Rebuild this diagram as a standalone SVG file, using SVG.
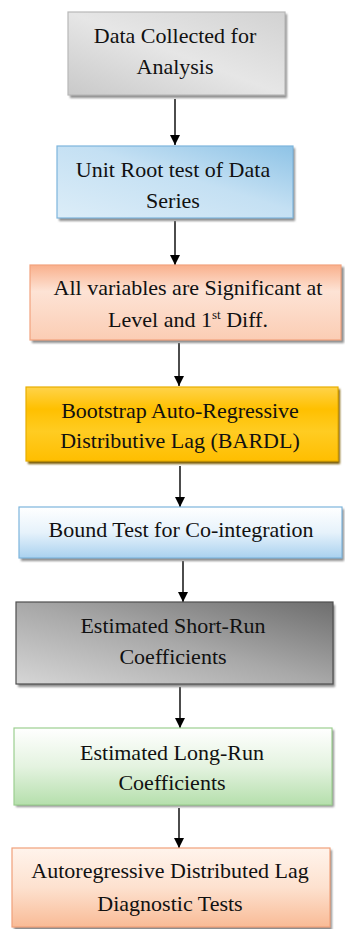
<svg xmlns="http://www.w3.org/2000/svg" width="345" height="929" viewBox="0 0 345 929" font-family="Times New Roman, Liberation Serif, serif">
  <defs>
    <linearGradient id="gGray" x1="0" y1="1" x2="1" y2="0">
      <stop offset="0" stop-color="#c9c9c9"/>
      <stop offset="0.5" stop-color="#e6e6e6"/>
      <stop offset="1" stop-color="#d2d2d2"/>
    </linearGradient>
    <linearGradient id="gBlue" x1="0" y1="1" x2="1" y2="0">
      <stop offset="0" stop-color="#dcedf8"/>
      <stop offset="0.55" stop-color="#c4e0f3"/>
      <stop offset="1" stop-color="#8ec3e6"/>
    </linearGradient>
    <linearGradient id="gSalmon" x1="0" y1="0" x2="0" y2="1">
      <stop offset="0" stop-color="#f9b08c"/>
      <stop offset="0.35" stop-color="#fde3d5"/>
      <stop offset="1" stop-color="#fbcdb4"/>
    </linearGradient>
    <linearGradient id="gGold" x1="0" y1="0" x2="0" y2="1">
      <stop offset="0" stop-color="#ffd34a"/>
      <stop offset="0.3" stop-color="#ffc000"/>
      <stop offset="0.6" stop-color="#ffcc22"/>
      <stop offset="1" stop-color="#ffbe00"/>
    </linearGradient>
    <linearGradient id="gSky" x1="0" y1="0" x2="0" y2="1">
      <stop offset="0" stop-color="#ffffff"/>
      <stop offset="0.5" stop-color="#e6f2fb"/>
      <stop offset="1" stop-color="#a9d1ef"/>
    </linearGradient>
    <linearGradient id="gDark" x1="0" y1="1" x2="1" y2="0">
      <stop offset="0" stop-color="#d6d6d6"/>
      <stop offset="0.5" stop-color="#a8a8a8"/>
      <stop offset="1" stop-color="#6e6e6e"/>
    </linearGradient>
    <linearGradient id="gGreen" x1="0" y1="0" x2="0" y2="1">
      <stop offset="0" stop-color="#ffffff"/>
      <stop offset="0.5" stop-color="#e4f3e0"/>
      <stop offset="1" stop-color="#b5dfac"/>
    </linearGradient>
    <linearGradient id="gPeach" x1="0" y1="0" x2="0" y2="1">
      <stop offset="0" stop-color="#fff4ec"/>
      <stop offset="0.5" stop-color="#fde1cf"/>
      <stop offset="1" stop-color="#f9bb96"/>
    </linearGradient>
    <filter id="soft" x="-5%" y="-10%" width="110%" height="120%">
      <feGaussianBlur stdDeviation="0.9"/>
    </filter>
    <marker id="head" viewBox="0 0 10 10" refX="10" refY="5" markerWidth="10" markerHeight="10" markerUnits="userSpaceOnUse" orient="auto">
      <path d="M0,0 L10,5 L0,10 z" fill="#000"/>
    </marker>
  </defs>
  <style>
    .label { font-family: "Times New Roman", "Liberation Serif", serif; font-size: 22px; fill: #111; text-anchor: middle; }
    .sup { font-size: 13px; }
    .shadow { fill: #8f8f8f; }
    .box { stroke-width: 1.2; }
    .link { stroke: #000; stroke-width: 1.4; fill: none; }
  </style>

  <g id="connectors">
    <line class="link" marker-end="url(#head)" x1="175" y1="99" x2="175" y2="145"/>
    <line class="link" marker-end="url(#head)" x1="175" y1="221" x2="175" y2="265"/>
    <line class="link" marker-end="url(#head)" x1="179" y1="343" x2="179" y2="386"/>
    <line class="link" marker-end="url(#head)" x1="180" y1="466" x2="180" y2="507"/>
    <line class="link" marker-end="url(#head)" x1="183" y1="561" x2="183" y2="602"/>
    <line class="link" marker-end="url(#head)" x1="180" y1="687" x2="180" y2="728"/>
    <line class="link" marker-end="url(#head)" x1="179" y1="808" x2="179" y2="848"/>
  </g>

  <g id="node-data">
    <rect class="shadow" filter="url(#soft)" x="70" y="14" width="217" height="84"/>
    <rect class="box" x="68" y="12" width="217" height="83" fill="url(#gGray)" stroke="#b8b8b8"/>
    <text class="label" font-family="Times New Roman" x="175" y="43">Data Collected  for</text>
    <text class="label" font-family="Times New Roman" x="175" y="74">Analysis</text>
  </g>

  <g id="node-unitroot">
    <rect class="shadow" filter="url(#soft)" x="59" y="148" width="236" height="73"/>
    <rect class="box" x="57" y="146" width="236" height="72" fill="url(#gBlue)" stroke="#7db5dc"/>
    <text class="label" font-family="Times New Roman" x="173" y="177">Unit Root test of Data</text>
    <text class="label" font-family="Times New Roman" x="173" y="208">Series</text>
  </g>

  <g id="node-significant">
    <rect class="shadow" filter="url(#soft)" x="32" y="267" width="312" height="76"/>
    <rect class="box" x="30" y="265" width="311" height="75" fill="url(#gSalmon)" stroke="#f2a27e"/>
    <text class="label" font-family="Times New Roman" x="188" y="295">All variables  are Significant at</text>
    <text class="label" font-family="Times New Roman" x="188" y="327">Level and 1<tspan class="sup" dy="-8">st</tspan><tspan dy="8"> Diff.</tspan></text>
  </g>

  <g id="node-bardl">
    <rect fill="#7a5a00" filter="url(#soft)" x="28" y="389" width="312" height="75"/>
    <rect class="box" x="26" y="387" width="312" height="74" fill="url(#gGold)" stroke="#e8ae00"/>
    <text class="label" font-family="Times New Roman" x="180" y="418">Bootstrap Auto-Regressive</text>
    <text class="label" font-family="Times New Roman" x="180" y="448">Distributive Lag (BARDL)</text>
  </g>

  <g id="node-bound">
    <rect class="shadow" filter="url(#soft)" x="21" y="509" width="323" height="52"/>
    <rect class="box" x="19" y="507" width="323" height="51" fill="url(#gSky)" stroke="#7db5dc"/>
    <text class="label" font-family="Times New Roman" x="181" y="537">Bound Test for Co-integration</text>
  </g>

  <g id="node-shortrun">
    <rect class="shadow" filter="url(#soft)" x="18" y="605" width="317" height="82"/>
    <rect class="box" x="16" y="602" width="317" height="82" fill="url(#gDark)" stroke="#4f4f4f"/>
    <text class="label" font-family="Times New Roman" x="173" y="633">Estimated Short-Run</text>
    <text class="label" font-family="Times New Roman" x="173" y="664">Coefficients</text>
  </g>

  <g id="node-longrun">
    <rect class="shadow" filter="url(#soft)" x="16" y="730" width="318" height="77"/>
    <rect class="box" x="14" y="728" width="318" height="77" fill="url(#gGreen)" stroke="#9ccf90"/>
    <text class="label" font-family="Times New Roman" x="172" y="760">Estimated Long-Run</text>
    <text class="label" font-family="Times New Roman" x="172" y="790">Coefficients</text>
  </g>

  <g id="node-diagnostics">
    <rect class="shadow" filter="url(#soft)" x="14" y="850" width="318" height="82"/>
    <rect class="box" x="12" y="848" width="318" height="79" fill="url(#gPeach)" stroke="#f0a07a"/>
    <text class="label" font-family="Times New Roman" x="170" y="878">Autoregressive Distributed Lag</text>
    <text class="label" font-family="Times New Roman" x="170" y="911">Diagnostic Tests</text>
  </g>
</svg>
